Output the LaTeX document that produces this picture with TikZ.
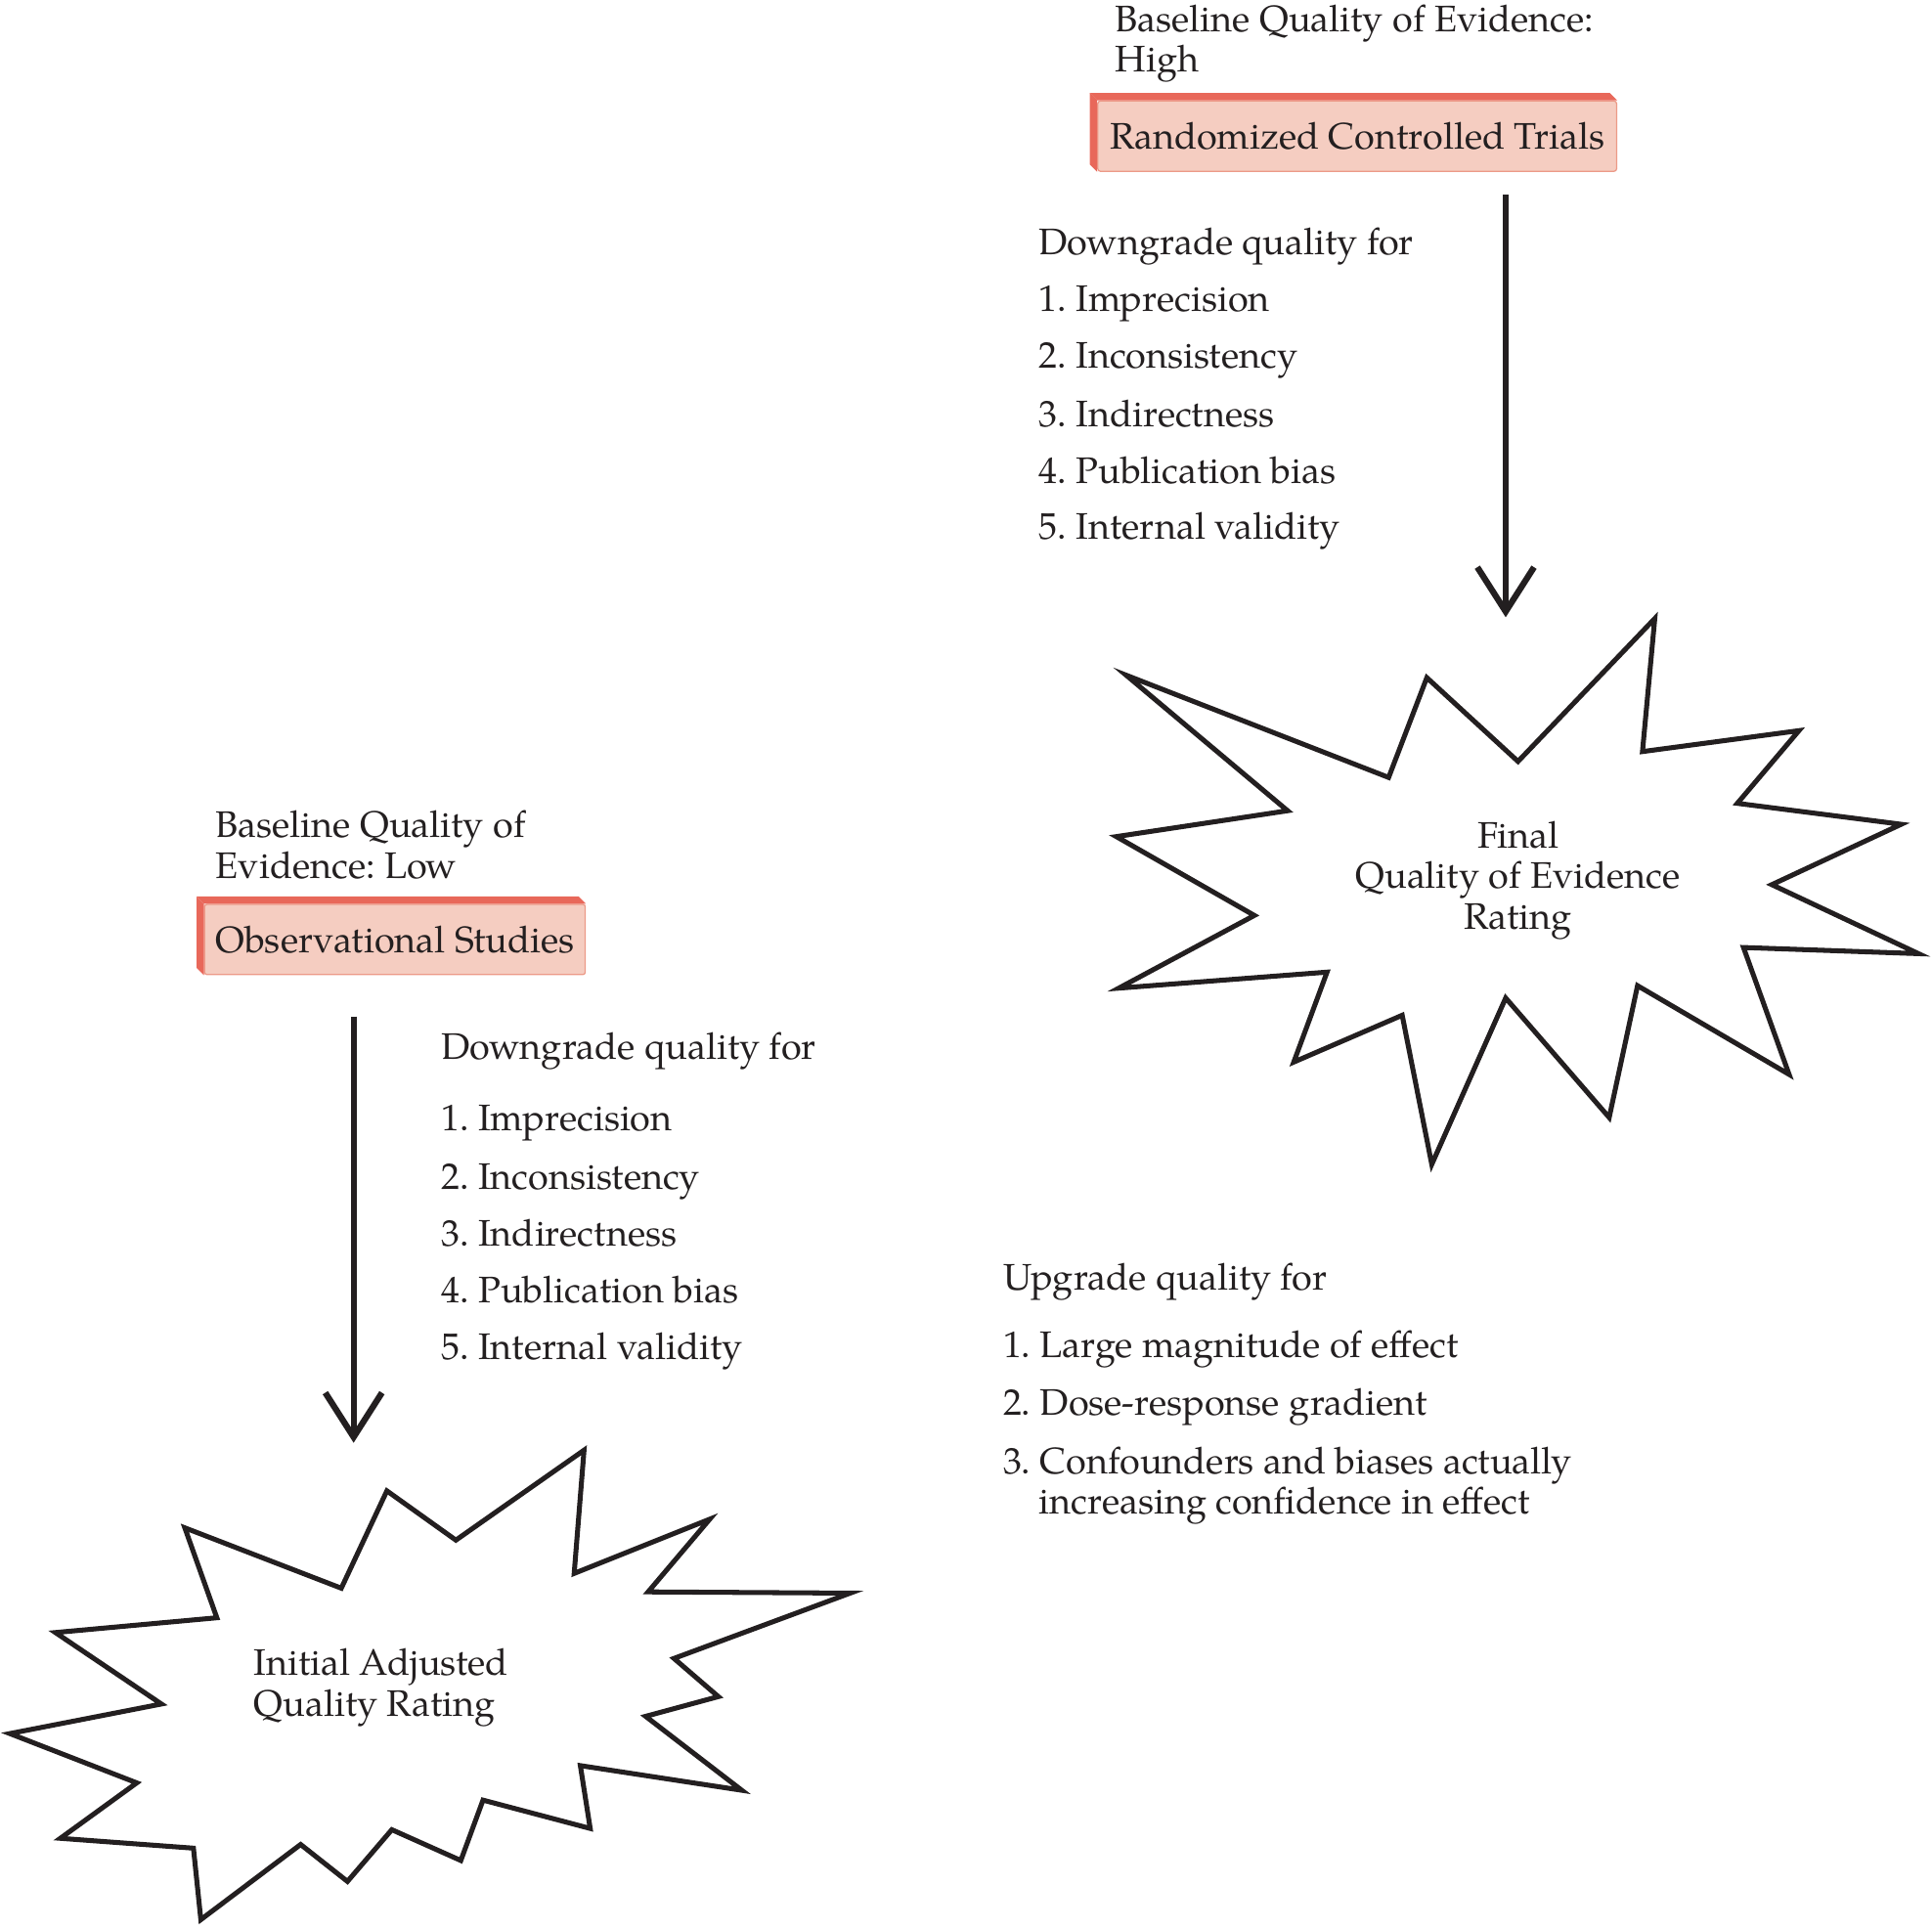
\documentclass[tikz,border=0pt]{standalone}
\usepackage{fontspec}
\setmainfont{texgyrepagella-regular.otf}
\usetikzlibrary{arrows.meta,calc}
\definecolor{boxfill}{HTML}{F5CDC1}
\definecolor{boxband}{HTML}{E8685A}
\definecolor{boxline}{HTML}{EC9A88}
\definecolor{ink}{HTML}{231F20}
\frenchspacing
\newcommand{\tfont}{\fontsize{30}{33}\selectfont\frenchspacing}
\tikzset{
  txt/.style={anchor=base west, inner sep=0pt, font=\tfont, text=ink},
  ctxt/.style={anchor=base, inner sep=0pt, font=\tfont, text=ink},
  sbox/.style={draw=boxline, line width=1pt, fill=boxfill, rounded corners=2pt,
    minimum height=57pt, inner sep=0pt, font=\tfont, text=ink},
  band/.style={fill=boxband, draw=none},
  starshape/.style={draw=ink, line width=4pt, line join=miter, miter limit=20},
  arr/.style={draw=ink, line width=5pt, -{Straight Barb[length=36pt,width=46pt]}}
}
\begin{document}
\begin{tikzpicture}[x=1pt,y=-1pt]
\useasboundingbox (0,0) rectangle (1568,1565);

% ---------- top right: RCT ----------
\node[txt] (rcthead1) at (905,26) {Baseline Quality of Evidence:};
\node[txt] (rcthead2) at (905,58) {High};
\node[sbox, minimum width=421pt] (rct) at (1101.5,110.5) {Randomized Controlled Trials};
\fill[band] (rct.north west) -- ++(-6,-6) -- ($(rct.north east)+(-6,-6)$) -- (rct.north east) -- cycle;
\fill[band] (rct.north west) -- ++(-6,-6) -- ($(rct.south west)+(-6,-6)$) -- (rct.south west) -- cycle;

\coordinate (a1s) at (1222,158);
\coordinate (a1e) at (1222,501);
\draw[arr] (a1s) -- (a1e);

\node[txt] (dgr0) at (843,207) {Downgrade quality for};
\node[txt] (dgr1) at (843,253) {1. Imprecision};
\node[txt] (dgr2) at (843,299) {2. Inconsistency};
\node[txt] (dgr3) at (843,346) {3. Indirectness};
\node[txt] (dgr4) at (843,392) {4. Publication bias};
\node[txt] (dgr5) at (843,438) {5. Internal validity};

% right star
\draw[starshape] (1343,502) -- (1333,610) -- (1460,593) -- (1410,652) -- (1543,669)
  -- (1438,718) -- (1557,774) -- (1415,769) -- (1452,872) -- (1329,800)
  -- (1306,907) -- (1222,810) -- (1162,945) -- (1138,824) -- (1050,862)
  -- (1077,789) -- (908,802) -- (1018,743) -- (906,679) -- (1045,658)
  -- (914,548) -- (1127,631) -- (1158,550) -- (1232,618) -- cycle;
\node[ctxt] (fin1) at (1232,688) {Final};
\node[ctxt] (fin2) at (1232,721) {Quality of Evidence};
\node[ctxt] (fin3) at (1232,754) {Rating};

% ---------- left: observational ----------
\node[txt] (obshead1) at (175,680) {Baseline Quality of};
\node[txt] (obshead2) at (175,713) {Evidence: Low};
\node[sbox, minimum width=309pt] (obs) at (320.5,762.5) {Observational Studies};
\fill[band] (obs.north west) -- ++(-6,-6) -- ($(obs.north east)+(-6,-6)$) -- (obs.north east) -- cycle;
\fill[band] (obs.north west) -- ++(-6,-6) -- ($(obs.south west)+(-6,-6)$) -- (obs.south west) -- cycle;

\coordinate (a2s) at (287,825);
\coordinate (a2e) at (287,1171);
\draw[arr] (a2s) -- (a2e);

\node[txt] (dgl0) at (358,860) {Downgrade quality for};
\node[txt] (dgl1) at (358,918) {1. Imprecision};
\node[txt] (dgl2) at (358,965) {2. Inconsistency};
\node[txt] (dgl3) at (358,1011) {3. Indirectness};
\node[txt] (dgl4) at (358,1057) {4. Publication bias};
\node[txt] (dgl5) at (358,1103) {5. Internal validity};

% left star
\draw[starshape] (474,1177) -- (466,1277) -- (576,1233) -- (526,1292) -- (690,1293)
  -- (547,1346) -- (583,1377) -- (524,1393) -- (602,1453) -- (471,1433)
  -- (479,1484) -- (392,1461) -- (374,1510) -- (318,1485) -- (282,1527)
  -- (244,1497) -- (163,1558) -- (157,1500) -- (49,1492) -- (111,1447)
  -- (8,1407) -- (131,1383) -- (45,1325) -- (176,1313) -- (150,1240)
  -- (277,1289) -- (314,1210) -- (370,1250) -- cycle;
\node[txt] (ini1) at (206,1360) {Initial Adjusted};
\node[txt] (ini2) at (206,1393) {Quality Rating};

% ---------- upgrade list ----------
\node[txt] (up0) at (814,1047) {Upgrade quality for};
\node[txt] (up1) at (814,1102) {1. Large magnitude of effect};
\node[txt] (up2) at (814,1149) {2. Dose-response gradient};
\node[txt] (up3) at (814,1196) {3. Confounders and biases actually};
\node[txt] (up4) at (843,1229) {increasing confidence in effect};
\end{tikzpicture}
\end{document}
